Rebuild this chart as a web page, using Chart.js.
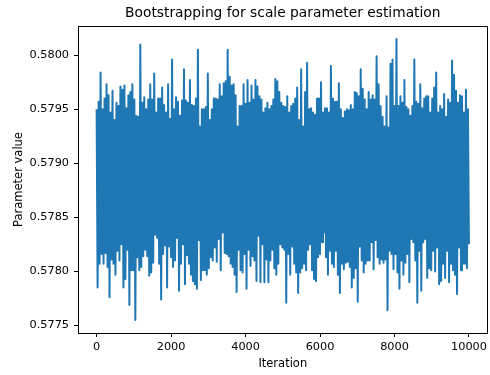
<!DOCTYPE html>
<html>
<head>
<meta charset="utf-8">
<script src="https://cdn.jsdelivr.net/npm/chart.js@4"></script>
<style>
  body { margin: 0; background: #fff; }
</style>
</head>
<body>
<canvas id="my-chart" width="490" height="375"></canvas>
<script>
const titleText = "Bootstrapping for scale parameter estimation";
const xTicks = [0, 2000, 4000, 6000, 8000, 10000];
const yTicks = [0.5775, 0.578, 0.5785, 0.579, 0.5795, 0.58];
const lastIteration = 9999;

// upper envelope of the trace, read column by column (~53 iterations each)
const highs = [
  0.57950, 0.57957, 0.57984, 0.57950, 0.57960, 0.57973, 0.57963, 0.57947, 0.57967, 0.57940,
  0.57956, 0.57953, 0.57971, 0.57968, 0.57972, 0.57951, 0.57963, 0.57966, 0.57973, 0.57959,
  0.57944, 0.57943, 0.58010, 0.57956, 0.57961, 0.57950, 0.57959, 0.57973, 0.57959, 0.57983,
  0.57947, 0.57960, 0.57960, 0.57970, 0.57954, 0.57947, 0.57973, 0.57941, 0.57996, 0.57950,
  0.57961, 0.57957, 0.57944, 0.57958, 0.57987, 0.57958, 0.57956, 0.57977, 0.57954, 0.57953,
  0.57960, 0.58005, 0.57934, 0.57950, 0.57950, 0.57952, 0.57983, 0.57940, 0.57950, 0.57960,
  0.57960, 0.57959, 0.57973, 0.57962, 0.57974, 0.57976, 0.58005, 0.57980, 0.57972, 0.57973,
  0.57963, 0.57934, 0.57953, 0.57953, 0.57973, 0.57955, 0.57977, 0.57956, 0.57972, 0.57959,
  0.57977, 0.57971, 0.57962, 0.57959, 0.57947, 0.57951, 0.57956, 0.57950, 0.57953, 0.57959,
  0.57978, 0.57976, 0.57966, 0.57956, 0.57953, 0.57952, 0.57962, 0.57947, 0.57953, 0.57955,
  0.57960, 0.57970, 0.57940, 0.57987, 0.57934, 0.57966, 0.57993, 0.57950, 0.57951, 0.57947,
  0.57945, 0.57960, 0.57960, 0.57975, 0.57947, 0.57951, 0.57951, 0.57947, 0.57990, 0.57960,
  0.57957, 0.57957, 0.57974, 0.57950, 0.57942, 0.57948, 0.57950, 0.57949, 0.57954, 0.57950,
  0.57966, 0.57965, 0.57962, 0.57987, 0.57969, 0.57959, 0.57950, 0.57966, 0.57959, 0.57963,
  0.57959, 0.57999, 0.57973, 0.57953, 0.57943, 0.57934, 0.57962, 0.57933, 0.57992, 0.57996,
  0.57953, 0.58015, 0.57953, 0.57962, 0.57956, 0.57977, 0.57952, 0.57950, 0.57944, 0.57953,
  0.57996, 0.57957, 0.57955, 0.57973, 0.57951, 0.57960, 0.57962, 0.57962, 0.57947, 0.57960,
  0.57970, 0.57984, 0.57947, 0.57953, 0.57950, 0.57964, 0.57943, 0.57959, 0.57956, 0.57995,
  0.57982, 0.57967, 0.57956, 0.57963, 0.57962, 0.57947, 0.57968, 0.57950,
];

// lower envelope of the trace, same columns
const lows = [
  0.57785, 0.57807, 0.57816, 0.57807, 0.57817, 0.57804, 0.57776, 0.57811, 0.57807, 0.57797,
  0.57819, 0.57810, 0.57825, 0.57785, 0.57793, 0.57820, 0.57769, 0.57801, 0.57801, 0.57755,
  0.57813, 0.57801, 0.57804, 0.57814, 0.57820, 0.57814, 0.57796, 0.57799, 0.57808, 0.57834,
  0.57831, 0.57807, 0.57774, 0.57816, 0.57824, 0.57785, 0.57823, 0.57813, 0.57804, 0.57810,
  0.57831, 0.57782, 0.57807, 0.57825, 0.57788, 0.57815, 0.57807, 0.57797, 0.57791, 0.57788,
  0.57784, 0.57829, 0.57792, 0.57801, 0.57801, 0.57797, 0.57803, 0.57813, 0.57810, 0.57822,
  0.57809, 0.57830, 0.57801, 0.57836, 0.57817, 0.57816, 0.57814, 0.57807, 0.57804, 0.57797,
  0.57781, 0.57820, 0.57801, 0.57799, 0.57816, 0.57784, 0.57820, 0.57805, 0.57814, 0.57810,
  0.57791, 0.57833, 0.57790, 0.57825, 0.57790, 0.57811, 0.57790, 0.57810, 0.57820, 0.57803,
  0.57797, 0.57807, 0.57825, 0.57822, 0.57820, 0.57771, 0.57816, 0.57797, 0.57823, 0.57807,
  0.57799, 0.57780, 0.57799, 0.57803, 0.57807, 0.57801, 0.57820, 0.57825, 0.57801, 0.57793,
  0.57791, 0.57813, 0.57816, 0.57827, 0.57836, 0.57813, 0.57797, 0.57819, 0.57807, 0.57804,
  0.57819, 0.57797, 0.57780, 0.57807, 0.57802, 0.57808, 0.57809, 0.57804, 0.57785, 0.57794,
  0.57803, 0.57772, 0.57823, 0.57810, 0.57799, 0.57807, 0.57810, 0.57810, 0.57827, 0.57802,
  0.57829, 0.57813, 0.57807, 0.57811, 0.57808, 0.57811, 0.57764, 0.57819, 0.57816, 0.57802,
  0.57816, 0.57799, 0.57784, 0.57810, 0.57797, 0.57808, 0.57816, 0.57790, 0.57830, 0.57827,
  0.57810, 0.57771, 0.57819, 0.57782, 0.57827, 0.57830, 0.57794, 0.57803, 0.57801, 0.57819,
  0.57800, 0.57822, 0.57788, 0.57791, 0.57807, 0.57794, 0.57819, 0.57790, 0.57807, 0.57801,
  0.57797, 0.57779, 0.57822, 0.57801, 0.57807, 0.57807, 0.57803, 0.57825,
];

// interleave high/low so the trace zigzags like the dense original
const trace = [];
const nPts = highs.length * 2;
for (let i = 0; i < highs.length; i++) {
  trace.push({ x: (2 * i) * lastIteration / (nPts - 1), y: highs[i] });
  trace.push({ x: (2 * i + 1) * lastIteration / (nPts - 1), y: lows[i] });
}

Chart.defaults.font.family = "DejaVu Sans";
Chart.defaults.color = "#000";

const frame = {
  id: "frame",
  afterDraw(chart) {
    const { ctx, chartArea } = chart;
    ctx.save();
    ctx.strokeStyle = "#000";
    ctx.lineWidth = 1;
    ctx.beginPath();
    ctx.moveTo(Math.round(chartArea.left) + 0.5, Math.round(chartArea.top) + 0.5);
    ctx.lineTo(Math.round(chartArea.right) - 0.5, Math.round(chartArea.top) + 0.5);
    ctx.lineTo(Math.round(chartArea.right) - 0.5, Math.round(chartArea.bottom) + 0.5);
    ctx.stroke();
    ctx.fillStyle = "#000";
    ctx.font = "13.8px 'DejaVu Sans'";
    ctx.textAlign = "center";
    ctx.textBaseline = "middle";
    ctx.fillText(titleText, (chartArea.left + chartArea.right) / 2, 13);
    ctx.restore();
  },
};

new Chart(document.getElementById("my-chart"), {
  type: "line",
  data: {
    datasets: [
      {
        data: trace,
        borderColor: "#1f77b4",
        borderWidth: 2,
        borderJoinStyle: "round",
        pointRadius: 0,
        tension: 0,
      },
    ],
  },
  options: {
    responsive: false,
    animation: false,
    layout: { padding: { top: 26, right: 1, left: 0, bottom: 0 } },
    plugins: {
      legend: { display: false },
      tooltip: { enabled: false },
    },
    scales: {
      x: {
        type: "linear",
        min: -500,
        max: 10499,
        afterFit: (scale) => { scale.height = 42; },
        afterBuildTicks: (scale) => { scale.ticks = xTicks.map((v) => ({ value: v })); },
        grid: { drawOnChartArea: false, drawTicks: true, tickLength: 4, color: "#000" },
        border: { display: true, color: "#000", width: 1 },
        ticks: { font: { size: 11.3 }, padding: 3, maxRotation: 0, callback: (v) => String(v) },
        title: { display: true, text: "Iteration", font: { size: 11.5 }, padding: { top: 2, bottom: 4 } },
      },
      y: {
        type: "linear",
        min: 0.57743,
        max: 0.58027,
        afterFit: (scale) => { scale.width = 78; },
        afterBuildTicks: (scale) => { scale.ticks = yTicks.map((v) => ({ value: v })); },
        grid: { drawOnChartArea: false, drawTicks: true, tickLength: 4, color: "#000" },
        border: { display: true, color: "#000", width: 1 },
        ticks: { font: { size: 11.3 }, padding: 5, callback: (v) => v.toFixed(4) },
        title: { display: true, text: "Parameter value", font: { size: 11.5 }, padding: { top: 12, bottom: 0 } },
      },
    },
  },
  plugins: [frame],
});
</script>
</body>
</html>
